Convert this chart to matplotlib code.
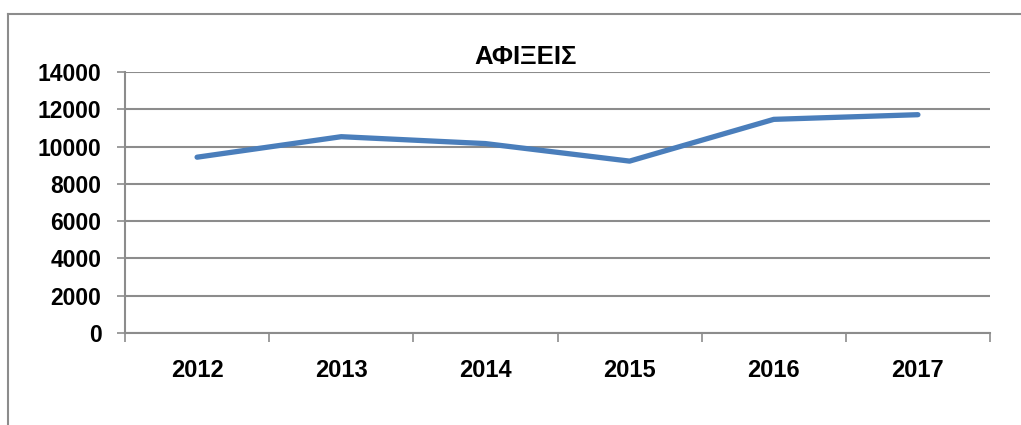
import matplotlib
matplotlib.use("Agg")
import matplotlib.pyplot as plt
from matplotlib.lines import Line2D

years = ["2012", "2013", "2014", "2015", "2016", "2017"]
arrivals = [9430, 10530, 10160, 9220, 11460, 11710]
yticks = [0, 2000, 4000, 6000, 8000, 10000, 12000, 14000]
title = "ΑΦΙΞΕΙΣ"

plt.rcParams['font.family'] = ['Liberation Sans', 'DejaVu Sans']
W, H = 1021, 425
fig = plt.figure(figsize=(W/100, H/100), dpi=100)
ax = fig.add_axes([125/W, 1-333/H, (990-125)/W, (333-72)/H])

grid_c = "#8c8c8c"
x = [i + 0.5 for i in range(len(years))]
ax.plot(x, arrivals, color="#4a7ebb", lw=3.8, solid_capstyle="round", solid_joinstyle="round", zorder=3)

ax.set_xlim(0, len(years))
ax.set_ylim(0, 14000)
ax.set_yticks(yticks)
ax.set_yticklabels([str(v) for v in yticks], fontsize=16.5, fontweight="bold")
ax.set_xticks(range(len(years) + 1))
ax.set_xticklabels([])
ax.set_xticks(x, minor=True)
ax.set_xticklabels(years, minor=True, fontsize=17, fontweight="bold")
ax.tick_params(axis="x", which="minor", length=0, pad=19)
ax.tick_params(axis="x", which="major", length=6.5, width=1.2, color=grid_c, direction="out")
ax.tick_params(axis="y", length=6, width=1.2, color=grid_c, pad=11)
ax.yaxis.grid(True, color=grid_c, lw=1.5)
ax.set_axisbelow(True)
for s in ["top", "right"]:
    ax.spines[s].set_visible(False)
for s in ["left", "bottom"]:
    ax.spines[s].set_color(grid_c)
    ax.spines[s].set_linewidth(1.5)

fig.text(526/W, 1-57/H, title, ha="center", va="center", fontsize=18.5, fontweight="bold")

fig.add_artist(Line2D([8/W, 8/W], [0, 1-14/H], transform=fig.transFigure, color="#8c8c8c", lw=1.5))
fig.add_artist(Line2D([8/W, 1], [1-14/H, 1-14/H], transform=fig.transFigure, color="#8c8c8c", lw=1.5))

fig.savefig("out.png", dpi=100)
